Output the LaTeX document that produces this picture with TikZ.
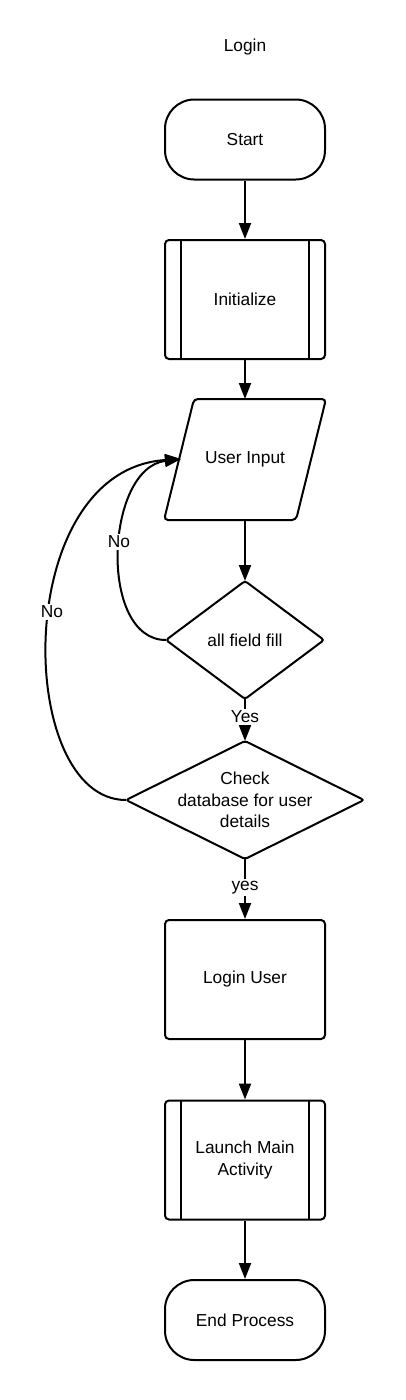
\documentclass[tikz,border=0pt]{standalone}
\usepackage{fontspec}
\setmainfont{Liberation Sans}
\usetikzlibrary{arrows.meta}
\begin{document}
\begin{tikzpicture}[x=0.75pt,y=-0.75pt,
  line width=1.5pt,
  every node/.style={font=\fontsize{13}{16}\selectfont, align=center, inner sep=0pt},
  terminal/.style={draw, rounded corners=22pt, minimum width=120pt, minimum height=60pt},
  process/.style={draw, rounded corners=3pt, minimum width=120pt, minimum height=89.25pt},
  predef/.style={process, path picture={
      \draw ([xshift=12pt]path picture bounding box.north west) -- ([xshift=12pt]path picture bounding box.south west);
      \draw ([xshift=-12pt]path picture bounding box.north east) -- ([xshift=-12pt]path picture bounding box.south east);}},
  plainbox/.style={minimum width=120pt, minimum height=89.25pt},
  arr/.style={-{Triangle[length=12pt,width=9pt]}},
  lbl/.style={fill=white, inner sep=1.5pt}
]
\fill[white] (0,0) rectangle (405,1400);

\node (title) at (245,47) {Login};

\node[terminal] (start) at (245,139.5) {Start};
\node[predef] (init) at (245,299.5) {Initialize};

\node[plainbox] (input) at (245,459.5) {User Input};
\draw[rounded corners=3pt] ([xshift=22.5pt]input.north west) -- (input.north east)
  -- ([xshift=-22.5pt]input.south east) -- (input.south west) -- cycle;
\coordinate (inW) at (181,459);

\node[minimum width=117pt, minimum height=87pt] (d1) at (245,640) {all field fill};
\draw[rounded corners=2pt] (d1.north) -- (d1.east) -- (d1.south) -- (d1.west) -- cycle;

\node[minimum width=177pt, minimum height=87pt] (d2) at (245,800) {Check\\database for user\\details};
\draw[rounded corners=2pt] (d2.north) -- (d2.east) -- (d2.south) -- (d2.west) -- cycle;

\node[process] (login) at (245,979.5) {Login User};
\node[predef] (launch) at (245,1160) {Launch Main\\Activity};
\node[terminal] (end) at (245,1320) {End Process};

\draw[arr] (start.south) -- (init.north);
\draw[arr] (init.south) -- (input.north);
\draw[arr] (input.south) -- (d1.north);
\draw[arr] (d1.south) -- node[lbl, pos=0.42] (yes1) {Yes} (d2.north);
\draw[arr] (d2.south) -- node[lbl, pos=0.48] (yes2) {yes} (login.north);
\draw[arr] (login.south) -- (launch.north);
\draw[arr] (launch.south) -- (end.north);

\draw[arr] (d1.west) .. controls (98,640) and (105,468) .. (inW);
\draw[arr] (d2.west) .. controls (15,800) and (10,470) .. (inW);
\node[lbl] (no1) at (119,542) {No};
\node[lbl] (no2) at (52,612) {No};
\end{tikzpicture}
\end{document}
